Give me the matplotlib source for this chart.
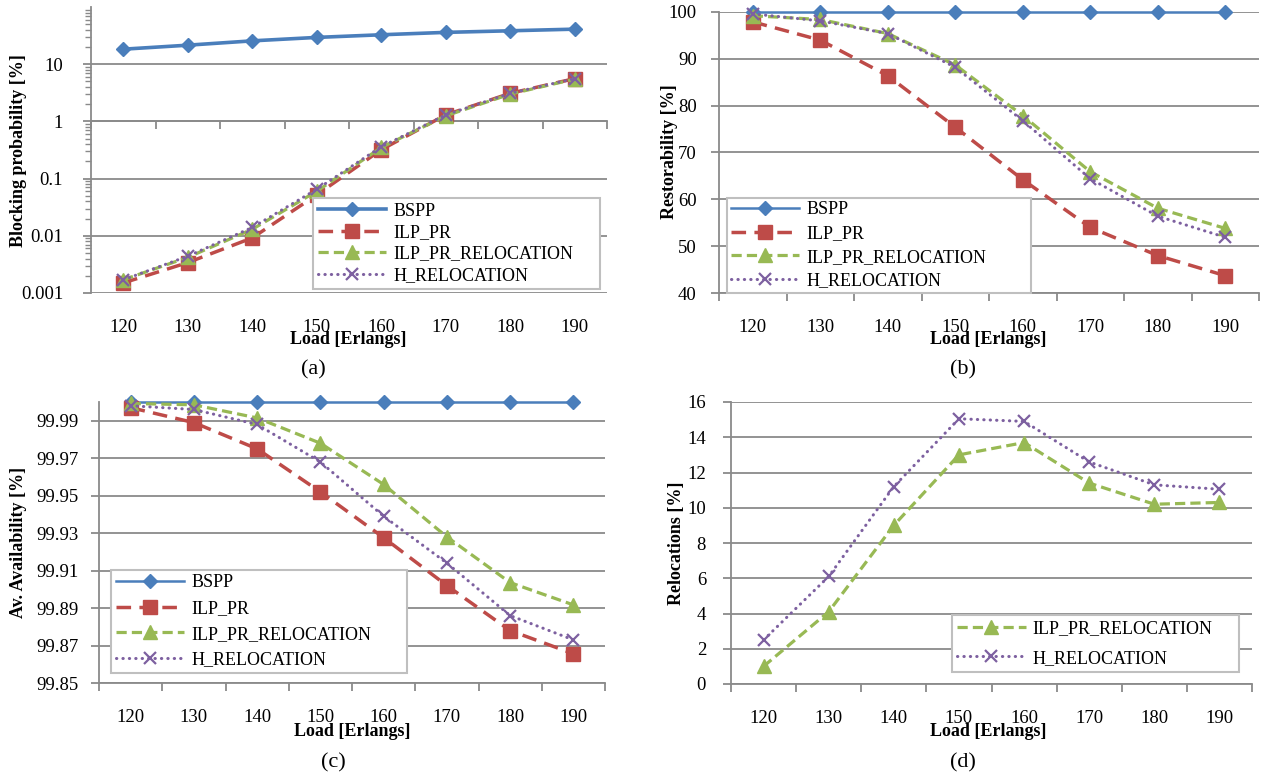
import numpy as np
import matplotlib
matplotlib.use("Agg")
import matplotlib.pyplot as plt
from matplotlib.ticker import LogLocator, NullFormatter

plt.rcParams["font.family"] = ["Liberation Serif", "DejaVu Serif"]

loads = ["120", "130", "140", "150", "160", "170", "180", "190"]
series_names = ["BSPP", "ILP_PR", "ILP_PR_RELOCATION", "H_RELOCATION"]

# (a) blocking probability [%]
block_bspp = [18.3, 21.5, 25.6, 29.4, 32.7, 36.0, 38.4, 41.0]
block_ilp_pr = [0.0015, 0.0034, 0.0092, 0.052, 0.32, 1.3, 3.1, 5.6]
block_ilp_pr_reloc = [0.0017, 0.0042, 0.013, 0.060, 0.35, 1.25, 3.0, 5.5]
block_h_reloc = [0.0017, 0.0044, 0.014, 0.065, 0.36, 1.3, 3.1, 5.6]

# (b) restorability [%]
rest_bspp = [100, 100, 100, 100, 100, 100, 100, 100]
rest_ilp_pr = [97.9, 94.0, 86.4, 75.4, 64.2, 54.0, 48.0, 43.7]
rest_ilp_pr_reloc = [99.2, 98.4, 95.4, 88.7, 77.9, 65.9, 58.1, 53.8]
rest_h_reloc = [99.6, 98.1, 95.4, 88.2, 76.8, 64.4, 56.4, 51.9]

# (c) average availability [%]
avail_bspp = [99.9999, 99.9999, 99.9999, 99.9999, 99.9999, 99.9999, 99.9999, 99.9999]
avail_ilp_pr = [99.997, 99.989, 99.975, 99.952, 99.9276, 99.902, 99.878, 99.8656]
avail_ilp_pr_reloc = [99.9992, 99.9985, 99.9915, 99.978, 99.956, 99.928, 99.9036, 99.8917]
avail_h_reloc = [99.998, 99.996, 99.988, 99.968, 99.939, 99.914, 99.886, 99.873]

# (d) relocations [%]
reloc_ilp_pr_reloc = [1.0, 4.1, 9.0, 13.0, 13.7, 11.4, 10.2, 10.3]
reloc_h_reloc = [2.5, 6.1, 11.2, 15.05, 14.9, 12.6, 11.3, 11.05]

GRAY = "#8A8A8A"
styles = {
    "BSPP": dict(color="#4A7EBB", marker="D", ms=7.5, lw=1.8, ls="-"),
    "ILP_PR": dict(color="#BE4B48", marker="s", ms=9.5, lw=2.5, ls=(0, (4.2, 2.4))),
    "ILP_PR_RELOCATION": dict(color="#98B954", marker="^", ms=9.5, lw=2.3, ls=(0, (3.2, 1.6))),
    "H_RELOCATION": dict(color="#7D60A0", marker="x", ms=9, mew=1.6, lw=2.2,
                         ls=(0, (0.1, 2.0)), dash_capstyle="round"),
}

W, H = 1263, 778
fig = plt.figure(figsize=(W / 100, H / 100), dpi=100)


def add_axes(left, top, right, bottom):
    return fig.add_axes([left / W, 1 - bottom / H, (right - left) / W, (bottom - top) / H])


def plot_series(ax, name, values, lw=None):
    st = dict(styles[name])
    if lw is not None:
        st["lw"] = lw
    ax.plot(np.arange(len(loads)), values, label=name, mec=st["color"],
            clip_on=False, zorder=3, **st)


def style_axes(ax, xlabel, ylabel, ylab_xy, xlab_xy, ypad):
    ax.set_xlim(-0.5, len(loads) - 0.5)
    for s in ["top", "right"]:
        ax.spines[s].set_visible(False)
    for s in ["left", "bottom"]:
        ax.spines[s].set_color(GRAY)
        ax.spines[s].set_linewidth(1.3)
    ax.yaxis.grid(True, which="major", color=GRAY, lw=1.3)
    ax.set_axisbelow(True)
    # boundary tick marks between categories
    ax.set_xticks(np.arange(-0.5, len(loads), 1.0))
    ax.tick_params(axis="x", which="both", direction="out", length=6, color=GRAY,
                   width=1.3, labelbottom=False)
    ax.tick_params(axis="y", which="major", direction="out", length=6, color=GRAY,
                   width=1.3, labelsize=13.5, pad=ypad)
    sec = ax.secondary_xaxis(0)
    sec.set_xticks(np.arange(len(loads)), loads)
    sec.tick_params(length=0, pad=19, labelsize=13.5)
    sec.spines["bottom"].set_visible(False)
    ax.set_xlabel(xlabel, fontsize=13, fontweight="bold", va="center")
    ax.xaxis.set_label_coords(*xlab_xy)
    ax.set_ylabel(ylabel, fontsize=13, fontweight="bold", va="center")
    ax.yaxis.set_label_coords(*ylab_xy)


def add_legend(ax, x0, y0, w, ls, bp):
    leg = ax.legend(loc="lower left", bbox_to_anchor=(x0, y0, w, 0.5), mode="expand",
                    borderaxespad=0, fontsize=13, handlelength=3.8, handletextpad=0.4,
                    labelspacing=ls, borderpad=bp, fancybox=False, framealpha=1,
                    edgecolor="#BFBFBF", numpoints=1)
    leg.get_frame().set_linewidth(1.5)
    leg.set_zorder(5)


# (a)
ax_a = add_axes(91, 7, 607, 293)
ax_a.set_yscale("log")
plot_series(ax_a, "BSPP", block_bspp, lw=2.6)
plot_series(ax_a, "ILP_PR", block_ilp_pr)
plot_series(ax_a, "ILP_PR_RELOCATION", block_ilp_pr_reloc)
plot_series(ax_a, "H_RELOCATION", block_h_reloc)
ax_a.set_ylim(0.001, 100)
ax_a.set_yticks([0.001, 0.01, 0.1, 1, 10], ["0.001", "0.01", "0.1", "1", "10"])
ax_a.yaxis.set_minor_locator(LogLocator(base=10, subs=np.arange(2, 10)))
ax_a.yaxis.set_minor_formatter(NullFormatter())
ax_a.spines["bottom"].set_position(("data", 1))
style_axes(ax_a, "Load [Erlangs]", "Blocking probability [%]",
           (-0.140, 0.497), (0.498, -0.164), 14)
ax_a.tick_params(axis="y", which="minor", direction="out", length=4, color=GRAY, width=1.0)
add_legend(ax_a, 0.430, 0.014, 0.556, 0.25, 0.27)

# (b)
ax_b = add_axes(719, 12, 1259, 293)
plot_series(ax_b, "BSPP", rest_bspp)
plot_series(ax_b, "ILP_PR", rest_ilp_pr)
plot_series(ax_b, "ILP_PR_RELOCATION", rest_ilp_pr_reloc)
plot_series(ax_b, "H_RELOCATION", rest_h_reloc)
ax_b.set_ylim(40, 100)
ax_b.set_yticks(np.arange(40, 101, 10))
style_axes(ax_b, "Load [Erlangs]", "Restorability [%]",
           (-0.091, 0.502), (0.498, -0.167), 10)
add_legend(ax_b, 0.015, 0.0, 0.563, 0.37, 0.2)

# (c)
ax_c = add_axes(99, 402, 605, 683)
plot_series(ax_c, "BSPP", avail_bspp)
plot_series(ax_c, "ILP_PR", avail_ilp_pr)
plot_series(ax_c, "ILP_PR_RELOCATION", avail_ilp_pr_reloc)
plot_series(ax_c, "H_RELOCATION", avail_h_reloc)
ax_c.set_ylim(99.85, 100.0)
c_ticks = [99.85, 99.87, 99.89, 99.91, 99.93, 99.95, 99.97, 99.99]
ax_c.set_yticks(c_ticks, [f"{v:.2f}" for v in c_ticks])
style_axes(ax_c, "Load [Erlangs]", "Av. Availability [%]",
           (-0.160, 0.502), (0.5, -0.174), 9)
add_legend(ax_c, 0.024, 0.036, 0.585, 0.48, 0.25)

# (d)
ax_d = add_axes(731, 402, 1252, 684)
plot_series(ax_d, "ILP_PR_RELOCATION", reloc_ilp_pr_reloc)
plot_series(ax_d, "H_RELOCATION", reloc_h_reloc)
ax_d.set_ylim(0, 16)
ax_d.set_yticks(np.arange(0, 17, 2))
style_axes(ax_d, "Load [Erlangs]", "Relocations [%]",
           (-0.104, 0.5), (0.493, -0.170), 12)
add_legend(ax_d, 0.424, 0.043, 0.551, 0.68, 0.28)

for cap, (cx, cy) in zip(["(a)", "(b)", "(c)", "(d)"],
                         [(313, 370), (963, 370), (333, 763), (963, 763)]):
    fig.text(cx / W, 1 - cy / H, cap, ha="center", va="center", fontsize=16)

fig.savefig("out.png", dpi=100)
